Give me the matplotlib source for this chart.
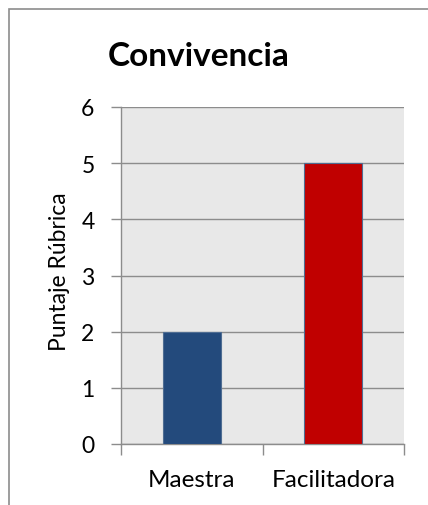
import matplotlib
matplotlib.use("Agg")
import matplotlib.pyplot as plt
from matplotlib.patches import Rectangle

# data
categories = ["Maestra", "Facilitadora"]
scores = [2, 5]
bar_colors = ["#234A7C", "#C00000"]
y_ticks = [0, 1, 2, 3, 4, 5, 6]

plt.rcParams['font.family'] = ['Lato', 'DejaVu Sans']

W, H = 428, 506
fig = plt.figure(figsize=(W / 100, H / 100), dpi=100)
fig.patch.set_facecolor("white")

# outer chart frame (cropped on right/bottom)
fig.patches.append(Rectangle((9 / W, -0.01), 1.0, (H - 10) / H + 0.01,
                             transform=fig.transFigure, fill=False,
                             edgecolor="#8C8C8C", linewidth=1.2))

ax = fig.add_axes([121 / W, 1 - 445 / H, (404 - 121) / W, (445 - 108) / H])
ax.set_facecolor("#E8E8E8")

x = list(range(len(categories)))
ax.bar(x, scores, width=0.41, color=bar_colors, edgecolor="#4F6D92",
       linewidth=0.8, zorder=3)

ax.set_xlim(-0.5, len(categories) - 0.5)
ax.set_ylim(0, 6)
ax.set_yticks(y_ticks)
ax.yaxis.grid(True, color="#8C8C8C", linewidth=1.0, zorder=1)
ax.set_axisbelow(True)

# x ticks at category boundaries, labels centered
ax.set_xticks([-0.5, 0.5, 1.5])
ax.set_xticklabels([])
ax.set_xticks(x, minor=True)
ax.set_xticklabels(categories, minor=True, fontsize=17.5)
ax.tick_params(axis='x', which='minor', length=0, pad=18)
ax.tick_params(axis='x', which='major', length=8, width=1.0, color="#8C8C8C",
               direction='out')
ax.tick_params(axis='y', length=7, width=1.0, color="#8C8C8C", labelsize=16.5,
               pad=12)

for s in ["top", "right"]:
    ax.spines[s].set_visible(False)
for s in ["left", "bottom"]:
    ax.spines[s].set_color("#8C8C8C")
    ax.spines[s].set_linewidth(1.0)

ax.set_ylabel("Puntaje Rúbrica", fontsize=16.5, va='center')
ax.yaxis.set_label_coords((60 - 121) / 283, (445 - 272) / 337)
fig.text(199 / W, 1 - 56 / H, "Convivencia", fontsize=24, fontweight='bold',
         ha='center', va='center')

fig.savefig("out.png", dpi=100)
